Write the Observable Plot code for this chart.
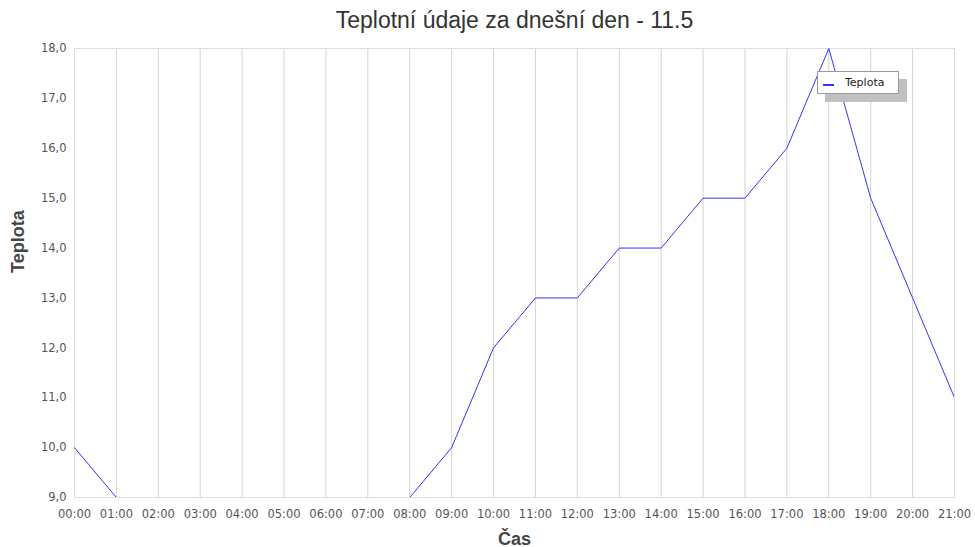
<!DOCTYPE html>
<html>
<head>
<meta charset="utf-8">
<script src="https://cdn.jsdelivr.net/npm/d3@7"></script>
<script src="https://cdn.jsdelivr.net/npm/@observablehq/plot@0.6"></script>
<style>
  body { margin: 0; background: #fff; }
  #wrap { position: relative; width: 975px; height: 547px; }
  #legend { position: absolute; left: 817px; top: 71px; width: 80px; height: 21px;
    background: #fff; border: 1px solid #999; box-shadow: 8px 8px 0 #c0c0c0;
    font: 11px "DejaVu Sans", sans-serif; color: #222; }
  #legend .sw { position: absolute; left: 5px; top: 12px; width: 11px; height: 2px; background: #3333ff; }
  #legend .lb { position: absolute; left: 27px; top: 4px; }
</style>
</head>
<body>
<div id="wrap"></div>
<script>
const title = "Teplotní údaje za dnešní den - 11.5";
const xLabel = "Čas";
const yLabel = "Teplota";
const seriesName = "Teplota";
const hours = ["00:00","01:00","02:00","03:00","04:00","05:00","06:00","07:00","08:00","09:00","10:00",
               "11:00","12:00","13:00","14:00","15:00","16:00","17:00","18:00","19:00","20:00","21:00"];
const temps = [10, 9, 9, 9, 9, 9, 9, 9, 9, 10, 12, 13, 13, 14, 14, 15, 15, 16, 18, 15, 13, 11];
const yTicks = [9, 10, 11, 12, 13, 14, 15, 16, 17, 18];

const data = hours.map((h, i) => ({ h, t: temps[i] }));
const fmt = v => d3.format(".1f")(v).replace(".", ",");

const chart = Plot.plot({
  width: 975,
  height: 547,
  marginLeft: 74,
  marginRight: 21,
  marginTop: 48,
  marginBottom: 50,
  style: { fontFamily: "DejaVu Sans, sans-serif", fontSize: "11.5px", color: "#555", background: "#fff", overflow: "visible" },
  x: { type: "point", domain: hours, padding: 0, inset: 0, round: false },
  y: { domain: [9, 18] },
  marks: [
    Plot.gridX(hours, { stroke: "#d4d4d4", strokeOpacity: 1 }),
    Plot.frame({ stroke: "#dedede" }),
    Plot.axisX({ ticks: hours, tickSize: 0, tickPadding: 12, label: null, fill: "#555", fontSize: 11.5 }),
    Plot.axisY({ ticks: yTicks, tickSize: 0, tickPadding: 8, tickFormat: fmt, label: null, fill: "#555", fontSize: 11.5 }),
    Plot.line(data, { x: "h", y: "t", stroke: "#3333ff", strokeWidth: 1, clip: true }),
    Plot.text([title], { frameAnchor: "top", dy: -37, fontSize: 23, fill: "#333", fontFamily: "Liberation Sans, Arial, sans-serif" }),
    Plot.text([xLabel], { frameAnchor: "bottom", dy: 47, fontSize: 18, fontWeight: "bold", fill: "#444", fontFamily: "Liberation Sans, Arial, sans-serif" }),
    Plot.text([yLabel], { frameAnchor: "left", dx: -56, rotate: -90, fontSize: 18, fontWeight: "bold", fill: "#444", fontFamily: "Liberation Sans, Arial, sans-serif" })
  ]
});
const wrap = document.getElementById("wrap");
wrap.appendChild(chart);
const lg = document.createElement("div");
lg.id = "legend";
lg.innerHTML = '<div class="sw"></div><div class="lb"></div>';
lg.querySelector(".lb").textContent = seriesName;
wrap.appendChild(lg);
</script>
</body>
</html>
